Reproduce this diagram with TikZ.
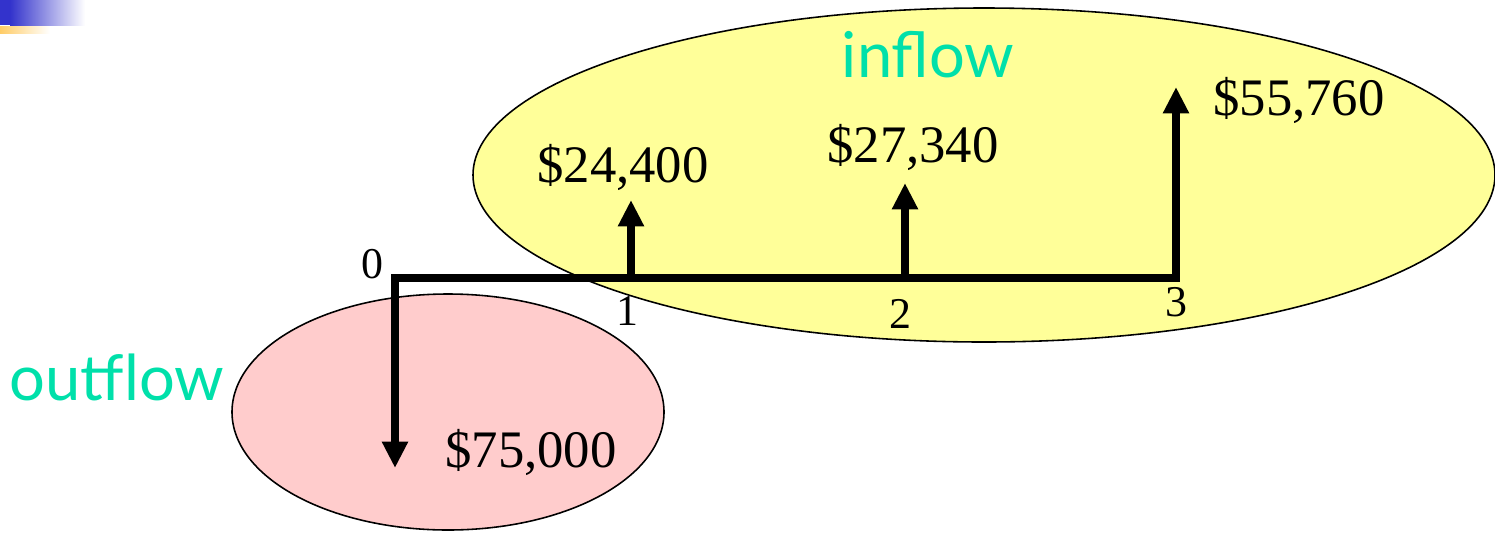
\documentclass[tikz,border=0pt]{standalone}
\usepackage{fontspec}
\setmainfont{Liberation Serif}
\newfontfamily\flowfont{Lato}
\usetikzlibrary{arrows.meta}
\definecolor{inyellow}{RGB}{255,255,153}
\definecolor{outpink}{RGB}{255,204,204}
\definecolor{flowteal}{RGB}{0,224,170}
\definecolor{barblue}{RGB}{51,51,204}
\definecolor{barorange}{RGB}{255,204,102}
\tikzset{
    cashline/.style = {line width = 4pt, line join = miter, -{Triangle[width = 14pt, length = 15pt]}},
    amount/.style = {font = \fontsize{30}{36}\selectfont},
    period/.style = {font = \fontsize{25}{30}\selectfont},
    flowname/.style = {font = \flowfont\fontsize{36}{42}\selectfont, text = flowteal},
    flowarea/.style = {draw, line width = 0.9pt}
}
\begin{document}
\begin{tikzpicture}[x = 0.02cm, y = -0.02cm]
        \useasboundingbox (0,0) rectangle (1495,535);
        % slide corner mark
        \fill[barblue] (0,0) rectangle (10,25);
        \shade[left color = barblue, right color = white] (10,0) rectangle (85,25);
        \shade[left color = barorange, right color = white] (0,26) rectangle (50,33);

        \draw[flowarea, fill = inyellow] (984,175) ellipse [x radius = 511, y radius = 167];
        \draw[flowarea, fill = outpink] (448,412) ellipse [x radius = 216, y radius = 118];

        \coordinate (t0) at (395,278);
        \coordinate (t1) at (631,278);
        \coordinate (t2) at (905,278);
        \coordinate (t3) at (1176,278);
        \coordinate (d0) at (395,468);
        \coordinate (u1) at (631,200);
        \coordinate (u2) at (905,183);
        \coordinate (u3) at (1176,87);

        \draw[cashline, {Triangle[width = 14pt, length = 15pt]}-{Triangle[width = 14pt, length = 15pt]}] (d0) -- (t0) -- (t3) -- (u3);
        \draw[cashline] (t1) -- (u1);
        \draw[cashline] (t2) -- (u2);

        \node[period] (p0) at (372,264) {0};
        \node[period] (p1) at (627,311) {1};
        \node[period] (p2) at (900,314) {2};
        \node[period] (p3) at (1176,302) {3};

        \node[amount] (a0) at (531,452) {\$75,000};
        \node[amount] (a1) at (623,167) {\$24,400};
        \node[amount] (a2) at (913,147) {\$27,340};
        \node[amount] (a3) at (1299,100) {\$55,760};

        \node[flowname] (in) at (928,55) {inflow};
        \node[flowname] (out) at (117,377) {outflow};
    \end{tikzpicture}
\end{document}
